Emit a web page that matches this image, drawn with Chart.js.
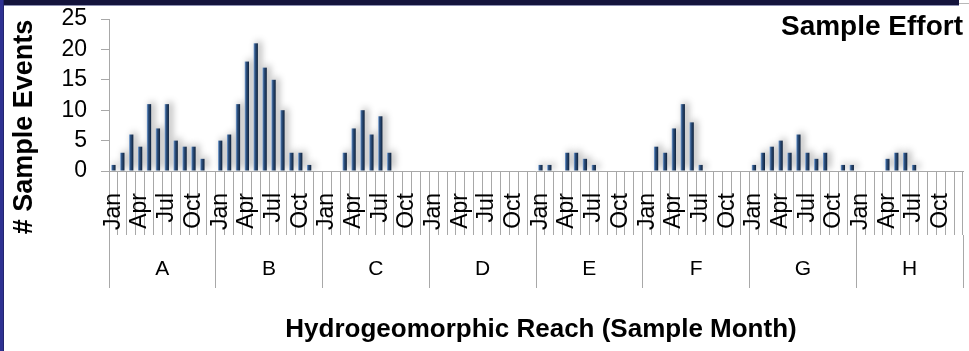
<!DOCTYPE html>
<html>
<head>
<meta charset="utf-8">
<script src="https://cdn.jsdelivr.net/npm/chart.js@4"></script>
<style>
  html, body { margin: 0; padding: 0; background: #fff; }
  #wrap { position: relative; width: 969px; height: 351px; overflow: hidden; background: #fff; }
  #topbar { position: absolute; left: 0; top: 0; width: 959px; height: 5px; background: #14143c; border-bottom: 1px solid #8e92b4; }
  #topline { position: absolute; left: 959px; top: 3px; width: 10px; height: 1px; background: #b8b8b8; }
  #leftbar { position: absolute; left: 0; top: 0; width: 3px; height: 351px; background: #2e3192; border-right: 1px solid #23256f; }
  #chart { position: absolute; left: 0; top: 0; }
</style>
</head>
<body>
<div id="wrap">
  <div id="topbar"></div>
  <div id="topline"></div>
  <div id="leftbar"></div>
  <canvas id="chart" width="969" height="351"></canvas>
</div>
<script>
// reaches and months
const reaches = ["A", "B", "C", "D", "E", "F", "G", "H"];
const months = ["Jan", "Feb", "Mar", "Apr", "May", "Jun", "Jul", "Aug", "Sep", "Oct", "Nov", "Dec"];
const shownMonths = ["Jan", "Apr", "Jul", "Oct"];

// number of sample events per month, one array per reach
const reachA = [1, 3, 6, 4, 11, 7, 11, 5, 4, 4, 2, 0];
const reachB = [5, 6, 11, 18, 21, 17, 15, 10, 3, 3, 1, 0];
const reachC = [0, 0, 3, 7, 10, 6, 9, 3, 0, 0, 0, 0];
const reachD = [0, 0, 0, 0, 0, 0, 0, 0, 0, 0, 0, 0];
const reachE = [1, 1, 0, 3, 3, 2, 1, 0, 0, 0, 0, 0];
const reachF = [0, 4, 3, 7, 11, 8, 1, 0, 0, 0, 0, 0];
const reachG = [1, 3, 4, 5, 3, 6, 3, 2, 3, 0, 1, 1];
const reachH = [0, 0, 0, 2, 3, 3, 1, 0, 0, 0, 0, 0];

const yTicks = [0, 5, 10, 15, 20, 25];

const labels = reaches.flatMap(r => months.map(m => m));
const values = [reachA, reachB, reachC, reachD, reachE, reachF, reachG, reachH].flat();

const FONT = "'Liberation Sans', Arial, sans-serif";
const GRID = "#a8a8a8";

// soft shadow behind the bars
const barShadow = {
  id: "barShadow",
  beforeDatasetsDraw(chart) {
    const c = chart.ctx;
    c.save();
    c.shadowColor = "rgba(0,0,0,0.38)";
    c.shadowBlur = 7;
    c.shadowOffsetX = 3;
    c.shadowOffsetY = -2;
  },
  afterDatasetsDraw(chart) {
    chart.ctx.restore();
  }
};

// titles placed where the slide had them
const titles = {
  id: "titles",
  afterDraw(chart) {
    const c = chart.ctx;
    c.save();
    c.fillStyle = "#000";
    c.font = "bold 28px " + FONT;
    c.textAlign = "right";
    c.textBaseline = "alphabetic";
    c.fillText("Sample Effort", 963, 35);

    c.font = "bold 26px " + FONT;
    c.textAlign = "center";
    c.fillText("Hydrogeomorphic Reach (Sample Month)", 541, 337);

    c.font = "bold 27px " + FONT;
    c.translate(32, 127);
    c.rotate(-Math.PI / 2);
    c.fillText("# Sample Events", 0, 0);
    c.restore();
  }
};

new Chart(document.getElementById("chart").getContext("2d"), {
  type: "bar",
  data: {
    labels: labels,
    datasets: [{
      data: values,
      backgroundColor: ctx => {
        const chart = ctx.chart;
        const sx = chart.scales && chart.scales.x;
        if (!sx || ctx.type !== "data" || !isFinite(sx.getPixelForValue(ctx.dataIndex))) return "#1d3656";
        const px = sx.getPixelForValue(ctx.dataIndex);
        const g = chart.ctx.createLinearGradient(px - 2, 0, px + 2, 0);
        g.addColorStop(0, "#7aa2d4");
        g.addColorStop(0.3, "#2f5484");
        g.addColorStop(1, "#11243e");
        return g;
      },
      borderWidth: 0,
      barPercentage: 0.48,
      categoryPercentage: 1
    }]
  },
  options: {
    responsive: false,
    animation: false,
    devicePixelRatio: 1,
    layout: { padding: { left: 0, right: 6, top: 19, bottom: 0 } },
    plugins: {
      legend: { display: false },
      tooltip: { enabled: false }
    },
    scales: {
      y: {
        min: 0,
        max: 25,
        afterFit: s => { s.width = 109; s.paddingTop = 0; s.paddingBottom = 0; },
        afterBuildTicks: s => { s.ticks = yTicks.map(v => ({ value: v })); },
        ticks: { autoSkip: false, font: { family: FONT, size: 23 }, color: "#000", padding: 14 },
        grid: { drawOnChartArea: false, tickLength: 8, color: GRID },
        border: { color: GRID }
      },
      x: {
        weight: 0,
        offset: true,
        afterFit: s => { s.height = 64; },
        ticks: {
          autoSkip: false,
          maxRotation: 90,
          minRotation: 90,
          padding: -42,
          font: { family: FONT, size: 23 },
          color: "#000",
          callback: function (v) {
            const m = this.getLabelForValue(v);
            return shownMonths.includes(m) ? m : "";
          }
        },
        grid: { offset: true, drawOnChartArea: false, tickLength: 64, color: GRID },
        border: { color: GRID }
      },
      x2: {
        type: "category",
        position: "bottom",
        weight: 1,
        labels: reaches,
        offset: true,
        afterFit: s => { s.height = 116; },
        ticks: { padding: -31, font: { family: FONT, size: 21 }, color: "#000", autoSkip: false, maxRotation: 0 },
        grid: { offset: true, drawOnChartArea: false, tickLength: 53, color: GRID },
        border: { display: false }
      }
    }
  },
  plugins: [barShadow, titles]
});
</script>
</body>
</html>
